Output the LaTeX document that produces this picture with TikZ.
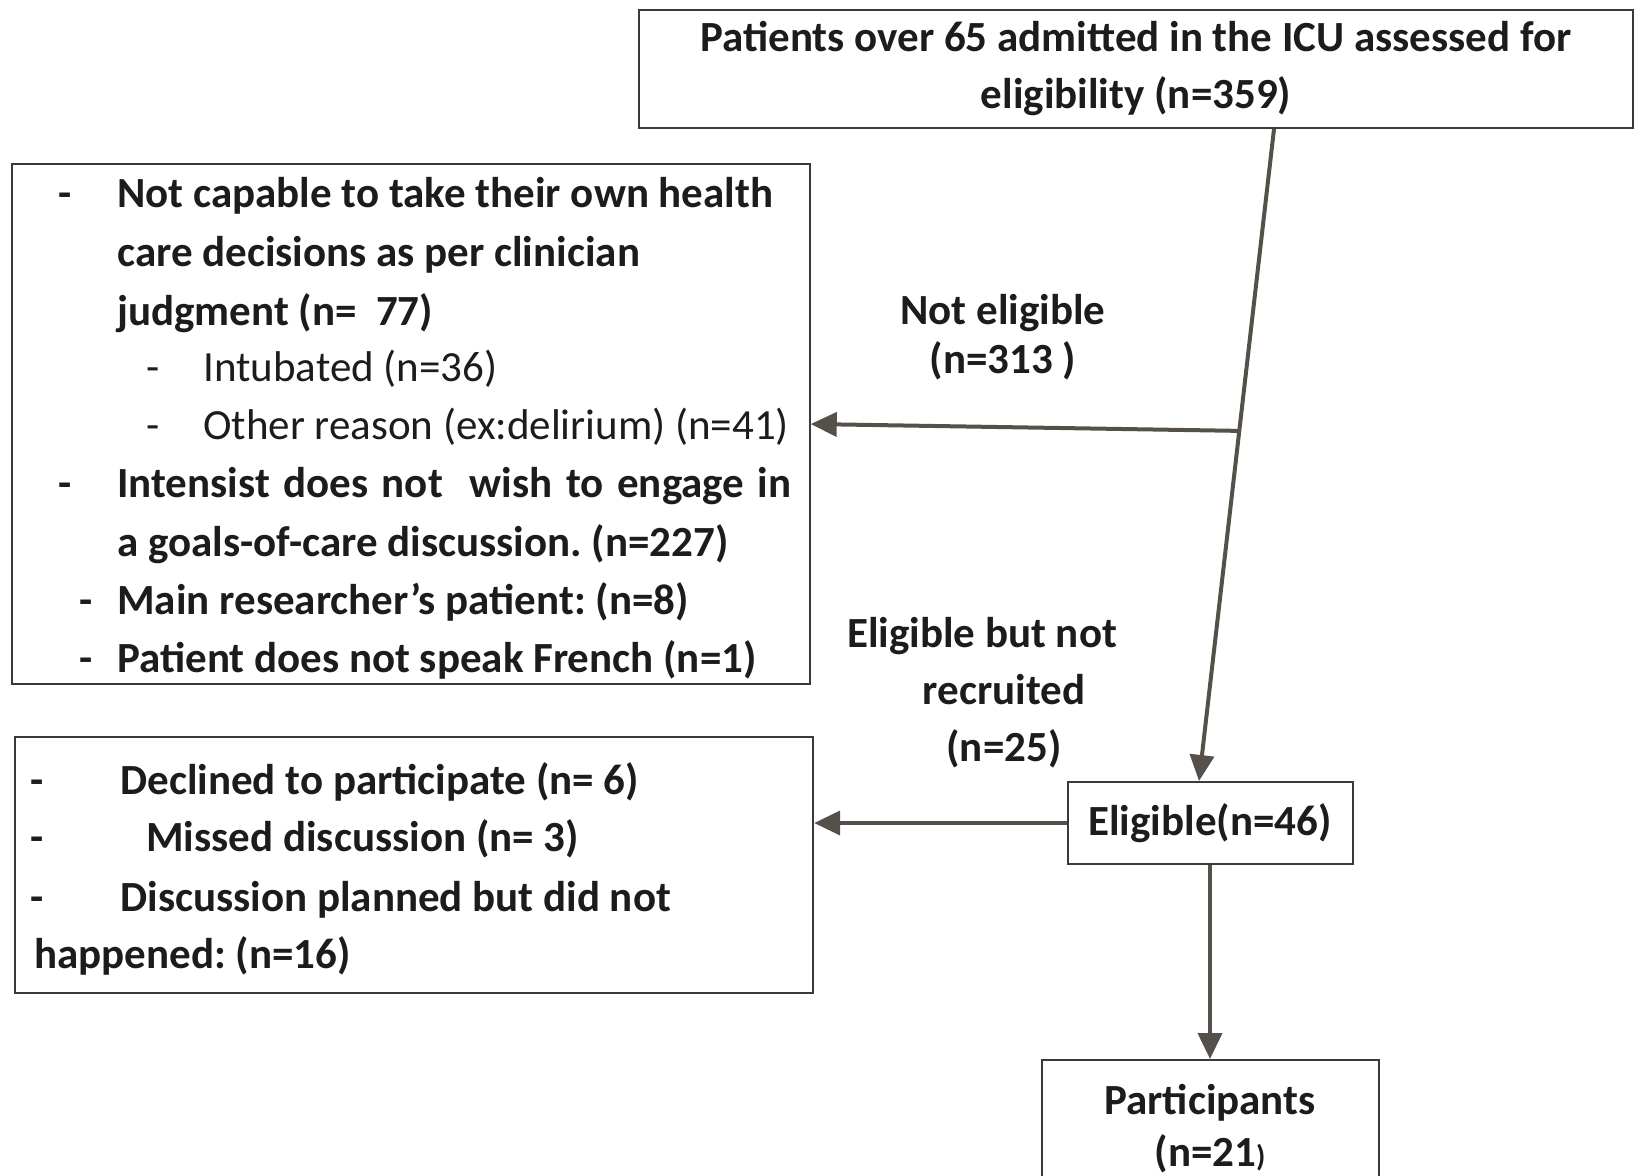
\documentclass[tikz,border=0pt]{standalone}
\usepackage{fontspec}
\setmainfont{Carlito}
\frenchspacing
\usetikzlibrary{arrows.meta,calc}
\definecolor{linkgray}{HTML}{55514A}
\definecolor{framegray}{HTML}{3A3A3A}
\definecolor{inkblack}{HTML}{1C1C1C}
\tikzset{
  flowbox/.style={draw=framegray,line width=1pt,rectangle,inner sep=0pt},
  boldtxt/.style={font=\bfseries\fontsize{21.5}{28.5}\selectfont,text=inkblack,inner sep=0pt},
  plaintxt/.style={font=\fontsize{21.5}{28.5}\selectfont,text=inkblack,inner sep=0pt},
  flowarrow/.style={draw=linkgray,line width=2pt,-{Triangle[length=13pt,width=12pt]}}
}
\begin{document}
\begin{tikzpicture}[x=0.5pt,y=-0.5pt]
\useasboundingbox (0,0) rectangle (1635,1175);
\clip (0,0) rectangle (1635,1175);
% boxes
\node[flowbox,boldtxt,minimum width=497pt,minimum height=59pt,align=center] (assessed) at (1136,69)
  {\raisebox{-1.5pt}{Patients over 65 admitted in the ICU assessed for}\\\raisebox{-1.5pt}{eligibility (n=359)}};
\node[flowbox,minimum width=398.75pt,minimum height=260pt] (noteligbox) at (411,424) {};
\node[flowbox,minimum width=399.2pt,minimum height=128pt] (notrecbox) at (414,865) {};
\node[flowbox,boldtxt,minimum width=142.5pt,minimum height=41pt] (eligible) at (1210,823)
  {\raisebox{-2.5pt}{Eligible(n=46)}};
\node[flowbox,boldtxt,minimum width=168.5pt,minimum height=69pt,align=center,
  font=\bfseries\fontsize{21.5}{26}\selectfont] (participants) at (1210,1129)
  {Participants\\(n=21{\fontsize{15}{18}\selectfont)}};
% exclusion list
\node[boldtxt,anchor=base] (dA) at (65,207) {-};
\node[boldtxt,anchor=base west] (tA) at (117,207) {Not capable to take their own health};
\node[boldtxt,anchor=base west] (tB) at (117,266) {care decisions as per clinician};
\node[boldtxt,anchor=base west] (tC) at (117,325) {judgment (n=\ \ 77)};
\node[plaintxt,anchor=base] (dD) at (153,381) {-};
\node[plaintxt,anchor=base west] (tD) at (203,381) {Intubated (n=36)};
\node[plaintxt,anchor=base] (dE) at (153,439) {-};
\node[plaintxt,anchor=base west] (tE) at (203,439) {Other reason (ex:delirium) (n=41)};
\node[boldtxt,anchor=base] (dF) at (65,497) {-};
\node[boldtxt,anchor=base west] (tF) at (117,497) {\makebox[337pt][s]{Intensist does not\ \ wish to engage in}};
\node[boldtxt,anchor=base west] (tG) at (117,556) {a goals-of-care discussion. (n=227)};
\node[boldtxt,anchor=base] (dH) at (86,614) {-};
\node[boldtxt,anchor=base west] (tH) at (117,614) {Main researcher’s patient: (n=8)};
\node[boldtxt,anchor=base] (dI) at (86,672) {-};
\node[boldtxt,anchor=base west] (tI) at (117,672) {Patient does not speak French (n=1)};
% not recruited list
\node[boldtxt,anchor=base] (dJ) at (37,794) {-};
\node[boldtxt,anchor=base west] (tJ) at (120,794) {Declined to participate (n= 6)};
\node[boldtxt,anchor=base] (dK) at (37,851) {-};
\node[boldtxt,anchor=base west] (tK) at (146,851) {Missed discussion (n= 3)};
\node[boldtxt,anchor=base] (dL) at (37,911) {-};
\node[boldtxt,anchor=base west] (tL) at (120,911) {Discussion planned but did not};
\node[boldtxt,anchor=base west] (tM) at (34,968) {happened: (n=16)};
% arrow labels
\node[boldtxt,align=center,font=\bfseries\fontsize{21.5}{24.5}\selectfont] (noteliglbl) at (1003,337) {Not eligible\\(n=313 )};
\node[boldtxt,align=center] (notreclbl) at (1004,693) {Eligible but not\hspace*{22pt}\\recruited\\(n=25)};
% connectors
\coordinate (splitpt) at ($([xshift=69pt]assessed.south)!0.463!([xshift=-5.5pt]eligible.north)$);
\draw[flowarrow] ([xshift=69pt]assessed.south) -- ([xshift=-5.5pt]eligible.north);
\draw[flowarrow] (splitpt) -- (noteligbox.east);
\draw[flowarrow] (eligible.west) -- (eligible.west -| notrecbox.east);
\draw[flowarrow] (eligible.south) -- (participants.north);
\end{tikzpicture}
\end{document}
